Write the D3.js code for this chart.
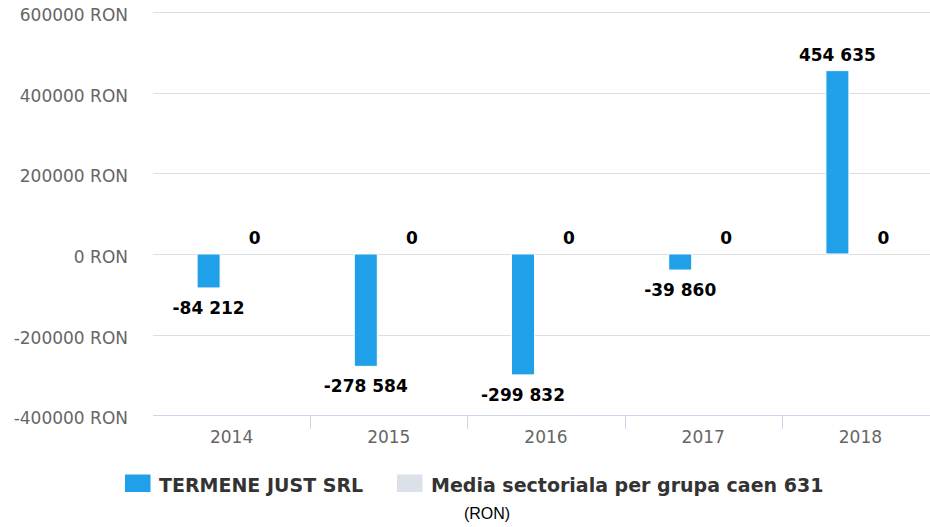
<!DOCTYPE html>
<html>
<head>
<meta charset="utf-8">
<script src="https://cdn.jsdelivr.net/npm/d3@7"></script>
<style>
  body { margin: 0; background: #fff; }
  svg { display: block; }
</style>
</head>
<body>
<svg id="chart" width="930" height="527"></svg>
<script>
// data
var years = ["2014", "2015", "2016", "2017", "2018"];
var companyValues = [-84212, -278584, -299832, -39860, 454635];
var sectorValues = [0, 0, 0, 0, 0];
var yTicks = [-400000, -200000, 0, 200000, 400000, 600000];
var seriesNames = ["TERMENE JUST SRL", "Media sectoriala per grupa caen 631"];
var seriesColors = ["#1fa0e9", "#dce0e9"];

var svg = d3.select("#chart");

var x = d3.scaleBand().domain(years).range([153, 939]).padding(0);
var y = d3.scaleLinear().domain([-400000, 600000]).range([415.3, 12]);

function fmt(v) {
	var s = Math.abs(v).toString().replace(/\B(?=(\d{3})+(?!\d))/g, " ");
	return (v < 0 ? "-" : "") + s;
}

// grid lines
svg.append("g").selectAll("line")
	.data(yTicks.filter(function(t) { return t > -400000; }))
	.enter()
	.append("line")
	.attr("x1", 153).attr("x2", 930)
	.attr("y1", function(t) { return Math.round(y(t)) + 0.5; })
	.attr("y2", function(t) { return Math.round(y(t)) + 0.5; })
	.style("stroke", "#dedede")
	.style("stroke-width", 1);

// y labels
svg.append("g").selectAll("text")
	.data(yTicks)
	.enter()
	.append("text")
	.attr("x", 128)
	.attr("y", function(t) { return y(t) + 9; })
	.attr("text-anchor", "end")
	.style("font-family", "DejaVu Sans")
	.style("font-size", "17px")
	.style("fill", "#666")
	.text(function(t) { return t + " RON"; });

// x axis line + ticks
svg.append("line")
	.attr("x1", 153).attr("x2", 930)
	.attr("y1", 415.5).attr("y2", 415.5)
	.style("stroke", "#ccd6eb");

svg.append("g").selectAll("line")
	.data(years.slice(1))
	.enter()
	.append("line")
	.attr("x1", function(d) { return Math.round(x(d)) + 0.5; })
	.attr("x2", function(d) { return Math.round(x(d)) + 0.5; })
	.attr("y1", 415).attr("y2", 429)
	.style("stroke", "#ccd6eb");

svg.append("g").selectAll("text")
	.data(years)
	.enter()
	.append("text")
	.attr("x", function(d) { return x(d) + x.bandwidth() / 2; })
	.attr("y", 443)
	.attr("text-anchor", "middle")
	.style("font-family", "DejaVu Sans")
	.style("font-size", "17px")
	.style("fill", "#666")
	.text(function(d) { return d; });

// bars
var OFFSET = 23;
var BAR_W = 23;
var series = [companyValues, sectorValues];

series.forEach(function(vals, si) {
	var dx = si == 0 ? -OFFSET : OFFSET;
	var g = svg.append("g");
	g.selectAll("rect")
		.data(vals)
		.enter()
		.append("rect")
		.attr("x", function(v, i) { return x(years[i]) + x.bandwidth() / 2 + dx - BAR_W / 2; })
		.attr("y", function(v) { return Math.min(y(v), y(0)); })
		.attr("width", BAR_W)
		.attr("height", function(v) { return Math.abs(y(v) - y(0)); })
		.style("fill", seriesColors[si])
		.style("stroke", "#fff")
		.style("stroke-width", 1);

	g.selectAll("text")
		.data(vals)
		.enter()
		.append("text")
		.attr("x", function(v, i) { return x(years[i]) + x.bandwidth() / 2 + dx; })
		.attr("y", function(v) { return v < 0 ? y(v) + 26 : y(v) - 10; })
		.attr("text-anchor", "middle")
		.style("font-family", "DejaVu Sans")
		.style("font-weight", "bold")
		.style("font-size", "17px")
		.style("fill", "#000")
		.text(function(v) { return fmt(v); });
});

// legend
var legendX = [125, 397];
var legend = svg.append("g").selectAll("g")
	.data(seriesNames)
	.enter()
	.append("g");

legend.append("rect")
	.attr("x", function(d, i) { return legendX[i]; })
	.attr("y", 474.5)
	.attr("width", 25.5)
	.attr("height", 17.5)
	.style("fill", function(d, i) { return seriesColors[i]; });

legend.append("text")
	.attr("x", function(d, i) { return legendX[i] + 34; })
	.attr("y", 491.5)
	.style("font-family", "DejaVu Sans")
	.style("font-weight", "bold")
	.style("font-size", "19px")
	.style("fill", "#333")
	.text(function(d) { return d; });

svg.append("text")
	.attr("x", 487)
	.attr("y", 519)
	.attr("text-anchor", "middle")
	.style("font-family", "Liberation Sans")
	.style("font-size", "16px")
	.style("fill", "#000")
	.text("(RON)");
</script>
</body>
</html>
